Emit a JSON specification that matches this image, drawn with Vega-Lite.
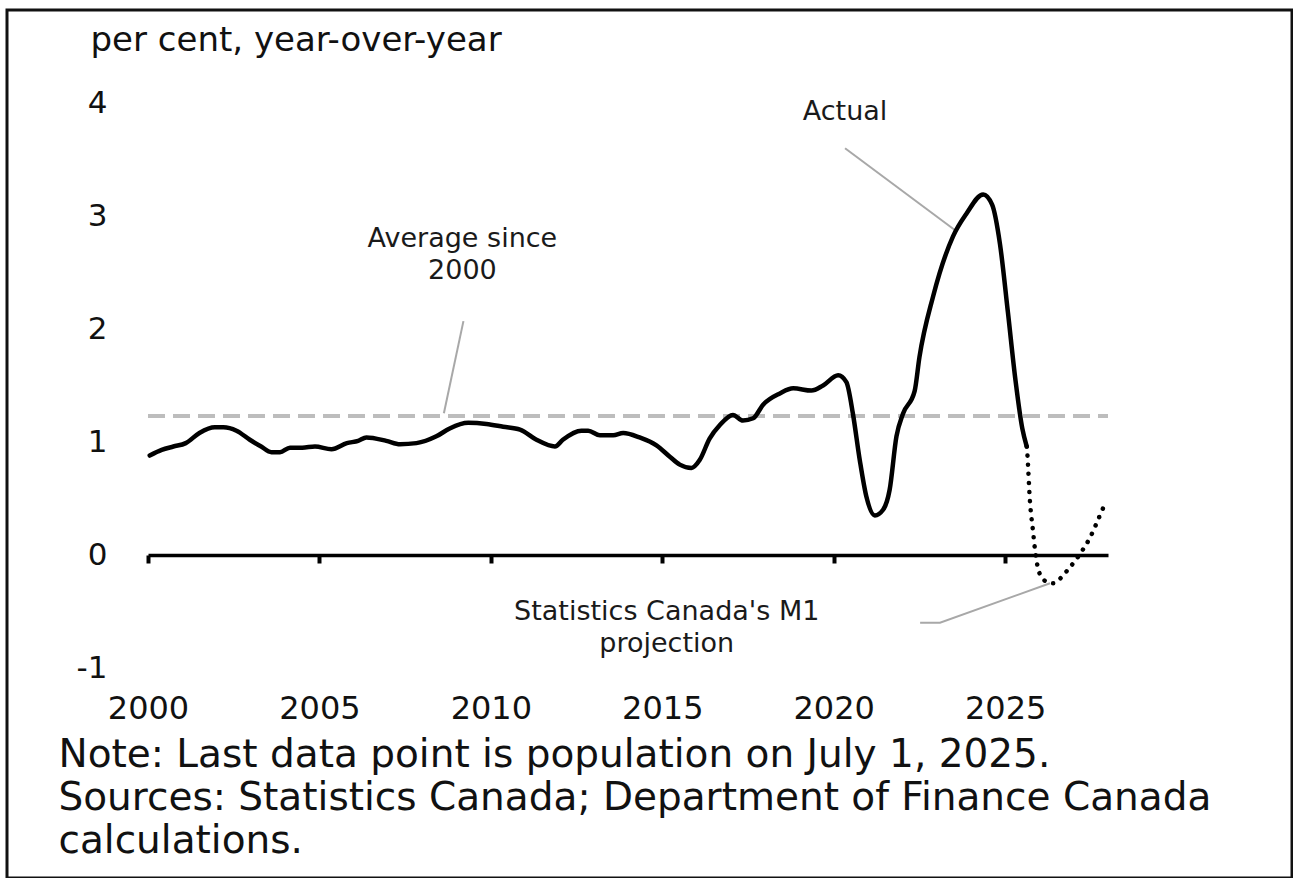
{
  "$schema": "https://vega.github.io/schema/vega-lite/v6.json",
  "autosize": {"type": "none"},
  "padding": {"left": 7, "top": 10, "right": 1, "bottom": 0},
  "width": 1285,
  "height": 868,
  "background": "white",
  "config": {
    "view": {"stroke": "#111111", "strokeWidth": 3},
    "font": "DejaVu Sans"
  },
  "datasets": {
    "series": [
      {"year": 2000.05, "value": 0.88, "type": "Actual"},
      {"year": 2000.4, "value": 0.93, "type": "Actual"},
      {"year": 2000.74, "value": 0.96, "type": "Actual"},
      {"year": 2001.1, "value": 0.99, "type": "Actual"},
      {"year": 2001.5, "value": 1.08, "type": "Actual"},
      {"year": 2001.95, "value": 1.13, "type": "Actual"},
      {"year": 2002.2, "value": 1.13, "type": "Actual"},
      {"year": 2002.58, "value": 1.1, "type": "Actual"},
      {"year": 2002.97, "value": 1.02, "type": "Actual"},
      {"year": 2003.3, "value": 0.96, "type": "Actual"},
      {"year": 2003.6, "value": 0.91, "type": "Actual"},
      {"year": 2003.85, "value": 0.91, "type": "Actual"},
      {"year": 2004.14, "value": 0.95, "type": "Actual"},
      {"year": 2004.5, "value": 0.95, "type": "Actual"},
      {"year": 2004.87, "value": 0.96, "type": "Actual"},
      {"year": 2005.35, "value": 0.935, "type": "Actual"},
      {"year": 2005.8, "value": 0.99, "type": "Actual"},
      {"year": 2006.13, "value": 1.01, "type": "Actual"},
      {"year": 2006.37, "value": 1.04, "type": "Actual"},
      {"year": 2006.95, "value": 1.01, "type": "Actual"},
      {"year": 2007.35, "value": 0.98, "type": "Actual"},
      {"year": 2007.83, "value": 0.99, "type": "Actual"},
      {"year": 2008.41, "value": 1.05, "type": "Actual"},
      {"year": 2008.8, "value": 1.12, "type": "Actual"},
      {"year": 2009.34, "value": 1.17, "type": "Actual"},
      {"year": 2009.87, "value": 1.16, "type": "Actual"},
      {"year": 2010.36, "value": 1.135, "type": "Actual"},
      {"year": 2010.85, "value": 1.11, "type": "Actual"},
      {"year": 2011.33, "value": 1.02, "type": "Actual"},
      {"year": 2011.87, "value": 0.96, "type": "Actual"},
      {"year": 2012.1, "value": 1.02, "type": "Actual"},
      {"year": 2012.64, "value": 1.1, "type": "Actual"},
      {"year": 2012.84, "value": 1.1, "type": "Actual"},
      {"year": 2013.18, "value": 1.06, "type": "Actual"},
      {"year": 2013.57, "value": 1.06, "type": "Actual"},
      {"year": 2013.86, "value": 1.08, "type": "Actual"},
      {"year": 2014.34, "value": 1.04, "type": "Actual"},
      {"year": 2014.83, "value": 0.97, "type": "Actual"},
      {"year": 2015.22, "value": 0.87, "type": "Actual"},
      {"year": 2015.51, "value": 0.8, "type": "Actual"},
      {"year": 2015.85, "value": 0.77, "type": "Actual"},
      {"year": 2016.09, "value": 0.84, "type": "Actual"},
      {"year": 2016.38, "value": 1.03, "type": "Actual"},
      {"year": 2016.68, "value": 1.15, "type": "Actual"},
      {"year": 2017.06, "value": 1.24, "type": "Actual"},
      {"year": 2017.35, "value": 1.19, "type": "Actual"},
      {"year": 2017.65, "value": 1.21, "type": "Actual"},
      {"year": 2017.94, "value": 1.33, "type": "Actual"},
      {"year": 2018.43, "value": 1.43, "type": "Actual"},
      {"year": 2018.82, "value": 1.475, "type": "Actual"},
      {"year": 2019.35, "value": 1.455, "type": "Actual"},
      {"year": 2019.69, "value": 1.5, "type": "Actual"},
      {"year": 2020.13, "value": 1.59, "type": "Actual"},
      {"year": 2020.37, "value": 1.53, "type": "Actual"},
      {"year": 2020.56, "value": 1.25, "type": "Actual"},
      {"year": 2020.76, "value": 0.84, "type": "Actual"},
      {"year": 2020.95, "value": 0.52, "type": "Actual"},
      {"year": 2021.2, "value": 0.35, "type": "Actual"},
      {"year": 2021.44, "value": 0.4, "type": "Actual"},
      {"year": 2021.63, "value": 0.575, "type": "Actual"},
      {"year": 2021.83, "value": 1.05, "type": "Actual"},
      {"year": 2022.02, "value": 1.25, "type": "Actual"},
      {"year": 2022.36, "value": 1.45, "type": "Actual"},
      {"year": 2022.5, "value": 1.75, "type": "Actual"},
      {"year": 2022.9, "value": 2.29, "type": "Actual"},
      {"year": 2023.48, "value": 2.82, "type": "Actual"},
      {"year": 2023.87, "value": 3.02, "type": "Actual"},
      {"year": 2024.36, "value": 3.19, "type": "Actual"},
      {"year": 2024.62, "value": 3.1, "type": "Actual"},
      {"year": 2024.85, "value": 2.75, "type": "Actual"},
      {"year": 2025.08, "value": 2.15, "type": "Actual"},
      {"year": 2025.3, "value": 1.55, "type": "Actual"},
      {"year": 2025.5, "value": 1.12, "type": "Actual"},
      {"year": 2025.63, "value": 0.96, "type": "Actual"},
      {"year": 2025.63, "value": 0.96, "type": "Projection"},
      {"year": 2025.65, "value": 0.885, "type": "Projection"},
      {"year": 2025.72, "value": 0.49, "type": "Projection"},
      {"year": 2025.81, "value": 0.22, "type": "Projection"},
      {"year": 2025.89, "value": 0.0, "type": "Projection"},
      {"year": 2025.96, "value": -0.12, "type": "Projection"},
      {"year": 2026.08, "value": -0.2, "type": "Projection"},
      {"year": 2026.22, "value": -0.24, "type": "Projection"},
      {"year": 2026.4, "value": -0.25, "type": "Projection"},
      {"year": 2026.6, "value": -0.21, "type": "Projection"},
      {"year": 2026.83, "value": -0.13, "type": "Projection"},
      {"year": 2027.07, "value": -0.04, "type": "Projection"},
      {"year": 2027.24, "value": 0.035, "type": "Projection"},
      {"year": 2027.47, "value": 0.15, "type": "Projection"},
      {"year": 2027.68, "value": 0.29, "type": "Projection"},
      {"year": 2027.85, "value": 0.41, "type": "Projection"}
    ],
    "average": [
      {"year": 2000, "year2": 2028, "value": 1.23}
    ],
    "leaders": [
      {"id": "actual", "seq": 1, "year": 2020.33, "value": 3.6},
      {"id": "actual", "seq": 2, "year": 2023.6, "value": 2.86},
      {"id": "average", "seq": 1, "year": 2009.2, "value": 2.07},
      {"id": "average", "seq": 2, "year": 2008.63, "value": 1.254},
      {"id": "projection", "seq": 1, "year": 2022.52, "value": -0.6},
      {"id": "projection", "seq": 2, "year": 2023.1, "value": -0.6},
      {"id": "projection", "seq": 3, "year": 2026.31, "value": -0.25}
    ],
    "labels": [
      {"label": "Actual", "year": 2020.33, "value": 3.92},
      {"label": "Average since\n2000", "year": 2009.17, "value": 2.8},
      {"label": "Statistics Canada's M1\nprojection", "year": 2015.13, "value": -0.5}
    ]
  },
  "layer": [
    {
      "data": {"name": "average"},
      "mark": {"type": "rule", "color": "#bdbdbd", "strokeWidth": 4, "strokeDash": [17, 8]},
      "encoding": {
        "x": {"field": "year", "type": "quantitative"},
        "x2": {"field": "year2"},
        "y": {"field": "value", "type": "quantitative"}
      }
    },
    {
      "data": {"name": "leaders"},
      "mark": {"type": "line", "color": "#a8a8a8", "strokeWidth": 2},
      "encoding": {
        "x": {"field": "year", "type": "quantitative"},
        "y": {"field": "value", "type": "quantitative"},
        "detail": {"field": "id", "type": "nominal"},
        "order": {"field": "seq", "type": "quantitative"}
      }
    },
    {
      "data": {"name": "series"},
      "transform": [{"filter": "datum.type === 'Actual'"}],
      "mark": {"type": "line", "color": "#000000", "strokeWidth": 4.5, "interpolate": "monotone", "strokeJoin": "round", "strokeCap": "round"},
      "encoding": {
        "x": {
          "field": "year", "type": "quantitative",
          "scale": {"domain": [2000, 2028], "range": [141, 1101], "nice": false, "zero": false},
          "axis": {
            "values": [2000, 2005, 2010, 2015, 2020, 2025],
            "format": "d",
            "offset": -323,
            "domain": true, "domainColor": "#000000", "domainWidth": 3.5,
            "ticks": true, "tickColor": "#000000", "tickWidth": 4, "tickSize": 8,
            "grid": false,
            "labelFont": "DejaVu Sans", "labelFontSize": 32, "labelColor": "#111111",
            "labelBaseline": "middle", "labelPadding": 145,
            "labelFlush": false, "labelOverlap": false,
            "title": ["Note: Last data point is population on July 1, 2025.", "Sources: Statistics Canada; Department of Finance Canada", "calculations."],
            "titleFont": "DejaVu Sans", "titleFontSize": 39, "titleFontWeight": "normal", "titleColor": "#111111",
            "titleAlign": "left", "titleAnchor": "start", "titleBaseline": "top",
            "titleX": 51, "titleY": 180, "titleLineHeight": 43
          }
        },
        "y": {
          "field": "value", "type": "quantitative",
          "scale": {"domain": [-1, 4], "range": [658, 93], "nice": false, "zero": false},
          "axis": {
            "values": [-1, 0, 1, 2, 3, 4],
            "labelExpr": "datum.value + ''",
            "offset": -100,
            "domain": false, "ticks": false, "tickSize": 0, "grid": false,
            "labelFont": "DejaVu Sans", "labelFontSize": 31, "labelColor": "#111111",
            "labelPadding": 0, "labelAlign": "right", "labelBaseline": "middle",
            "title": "per cent, year-over-year",
            "titleFont": "DejaVu Sans", "titleFontSize": 34, "titleFontWeight": "normal", "titleColor": "#111111",
            "titleAngle": 0, "titleAlign": "left", "titleBaseline": "middle",
            "titleX": -17, "titleY": 30
          }
        }
      }
    },
    {
      "data": {"name": "series"},
      "transform": [{"filter": "datum.type === 'Projection'"}],
      "mark": {"type": "line", "color": "#000000", "strokeWidth": 4.5, "interpolate": "monotone", "strokeDash": [0.1, 9], "strokeCap": "round"},
      "encoding": {
        "x": {"field": "year", "type": "quantitative"},
        "y": {"field": "value", "type": "quantitative"}
      }
    },
    {
      "data": {"name": "labels"},
      "mark": {"type": "text", "font": "DejaVu Sans", "fontSize": 27, "lineHeight": 32, "lineBreak": "\n", "align": "center", "baseline": "middle", "color": "#1a1a1a"},
      "encoding": {
        "x": {"field": "year", "type": "quantitative"},
        "y": {"field": "value", "type": "quantitative"},
        "text": {"field": "label", "type": "nominal"}
      }
    }
  ]
}
